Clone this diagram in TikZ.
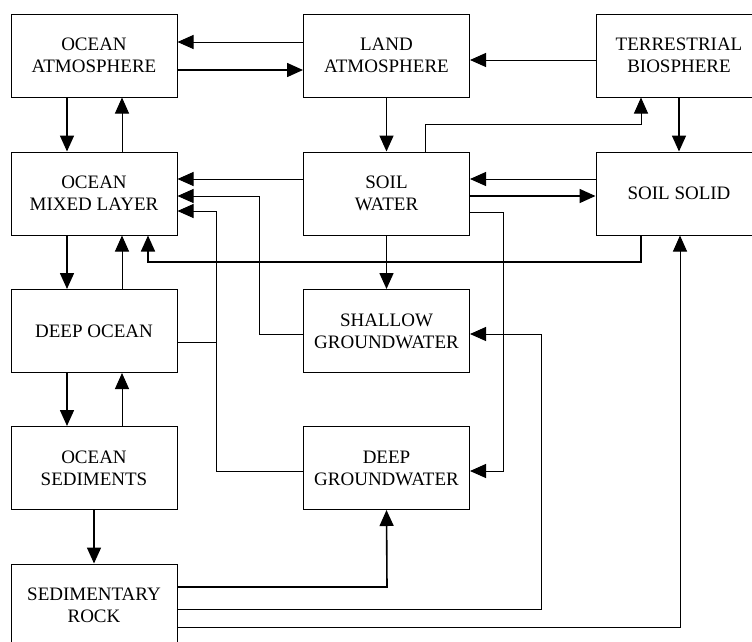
\documentclass[tikz,border=0pt]{standalone}
\usepackage{fontspec}
\setmainfont{Liberation Serif}
\usetikzlibrary{arrows.meta}
\begin{document}
\begin{tikzpicture}[x=1pt,y=-1pt,
  box/.style={draw,line width=1pt,minimum width=166pt,minimum height=83pt,inner sep=0pt,align=center,font=\fontsize{19}{22}\selectfont},
  thinar/.style={line width=1pt,-{Triangle[length=16pt,width=14pt]}},
  thickar/.style={line width=1.6pt,-{Triangle[length=16pt,width=14pt]}},
  thinln/.style={line width=1pt},
  thickln/.style={line width=1.6pt}]
\useasboundingbox (0,0) rectangle (752,641);
\clip (0,0) rectangle (752,641);
\node[box] (OA) at (94,55.5) {OCEAN\\ATMOSPHERE};
\node[box] (LA) at (386.5,55.5) {LAND\\ATMOSPHERE};
\node[box] (TB) at (679,55.5) {TERRESTRIAL\\BIOSPHERE};
\node[box] (ML) at (94,193.5) {OCEAN\\MIXED LAYER};
\node[box] (SW) at (386.5,193.5) {SOIL\\WATER};
\node[box] (SS) at (679,193.5) {SOIL SOLID};
\node[box] (DO) at (94,331) {DEEP OCEAN};
\node[box] (SGW) at (386.5,331) {SHALLOW\\GROUNDWATER};
\node[box] (OS) at (94,468) {OCEAN\\SEDIMENTS};
\node[box] (DGW) at (386.5,468) {DEEP\\GROUNDWATER};
\node[box] (SR) at (94,605.5) {SEDIMENTARY\\ROCK};
% top row
\draw[thinar] (LA.west |- 0,42) -- (OA.east |- 0,42);
\draw[thickar] (OA.east |- 0,70) -- (LA.west |- 0,70);
\draw[thinar] (TB.west |- 0,60) -- (LA.east |- 0,60);
% vertical between ocean boxes
\draw[thickar] (OA.south -| 67,0) -- (ML.north -| 67,0);
\draw[thinar] (ML.north -| 122,0) -- (OA.south -| 122,0);
\draw[thickar] (ML.south -| 67,0) -- (DO.north -| 67,0);
\draw[thinar] (DO.north -| 122,0) -- (ML.south -| 122,0);
\draw[thickar] (DO.south -| 67,0) -- (OS.north -| 67,0);
\draw[thinar] (OS.north -| 122,0) -- (DO.south -| 122,0);
\draw[thickar] (OS.south) -- (SR.north);
% land column
\draw[thickar] (LA.south) -- (SW.north);
\draw[thickar] (SW.south) -- (SGW.north);
\draw[thickar] (TB.south) -- (SS.north);
\draw[thinar] (SW.north -| 425,0) -- (425,124) -- (641,124) -- (TB.south -| 641,0);
\draw[thinar] (SS.west |- 0,179) -- (SW.east |- 0,179);
\draw[thickar] (SW.east |- 0,196) -- (SS.west |- 0,196);
\draw[thinar] (SW.west |- 0,179) -- (ML.east |- 0,179);
% groundwater to mixed layer
\draw[thinar] (SGW.west |- 0,334) -- (259,334) -- (259,196) -- (ML.east |- 0,196);
\draw[thinar] (DGW.west |- 0,471) -- (216,471) -- (216,211) -- (ML.east |- 0,211);
\draw[thinln] (DO.east |- 0,342) -- (216,342);
% soil solid to mixed layer
\draw[thickar] (SS.south -| 641,0) -- (641,262) -- (148,262) -- (ML.south -| 148,0);
% soil water to deep groundwater
\draw[thinar] (SW.east |- 0,212) -- (503,212) -- (503,471) -- (DGW.east |- 0,471);
% sedimentary rock
\draw[thickar] (SR.east |- 0,587) -- (387,587) -- (DGW.south);
\draw[thinar] (SR.east |- 0,609) -- (541,609) -- (541,334) -- (SGW.east |- 0,334);
\draw[thinar] (SR.east |- 0,627) -- (680,627) -- (SS.south -| 680,0);
\end{tikzpicture}
\end{document}
